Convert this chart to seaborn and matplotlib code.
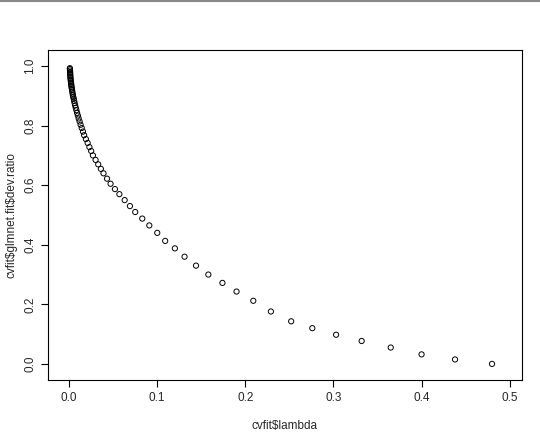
import matplotlib
matplotlib.use("Agg")
import matplotlib.pyplot as plt
import seaborn as sns
import pandas as pd

lam = [0.48, 0.438, 0.40, 0.365, 0.332, 0.303, 0.276, 0.252, 0.229, 0.209,
       0.190, 0.174, 0.158, 0.144, 0.131, 0.120, 0.109, 0.100, 0.091, 0.083,
       0.075, 0.069, 0.063, 0.057, 0.052, 0.047, 0.043, 0.039, 0.036, 0.033,
       0.030, 0.027, 0.025, 0.023, 0.021, 0.019, 0.017, 0.0157, 0.0143, 0.013,
       0.0119, 0.0108, 0.0099, 0.009, 0.0082, 0.0075, 0.0068, 0.0062, 0.0057, 0.0052,
       0.0047, 0.0043, 0.0039, 0.0036, 0.0033, 0.003, 0.0027, 0.0025, 0.0023, 0.0021,
       0.0019, 0.0017, 0.0015, 0.0014, 0.0013, 0.0012, 0.0011, 0.001, 0.0009, 0.0008]
dev_ratio = [0.0, 0.015, 0.032, 0.055, 0.077, 0.098, 0.12, 0.143, 0.176, 0.212,
             0.243, 0.272, 0.300, 0.330, 0.360, 0.388, 0.413, 0.440, 0.465, 0.488,
             0.510, 0.530, 0.550, 0.570, 0.587, 0.605, 0.622, 0.640, 0.655, 0.670,
             0.685, 0.700, 0.715, 0.728, 0.742, 0.755, 0.768, 0.780, 0.792, 0.803,
             0.814, 0.824, 0.834, 0.843, 0.852, 0.86, 0.868, 0.876, 0.883, 0.890,
             0.896, 0.902, 0.908, 0.914, 0.92, 0.925, 0.93, 0.935, 0.94, 0.945,
             0.95, 0.955, 0.96, 0.965, 0.97, 0.975, 0.98, 0.985, 0.99, 0.993]

df = pd.DataFrame({"lambda": lam, "dev": dev_ratio})

sns.set_style("ticks")
plt.rcParams['font.family'] = ['Liberation Sans', 'DejaVu Sans']
plt.rcParams['text.parse_math'] = False
fig = plt.figure(figsize=(5.4, 4.45), dpi=100)
ax = fig.add_axes([48 / 540, 65 / 445, 474 / 540, 330 / 445])
sns.scatterplot(data=df, x="lambda", y="dev", ax=ax, marker="o", s=14,
                facecolor="none", edgecolor="black", linewidth=0.7)
ax.set_xlim(-0.024, 0.514)
ax.set_ylim(-0.054, 1.054)
ax.set_xticks([0, 0.1, 0.2, 0.3, 0.4, 0.5])
ax.set_xticklabels(["0.0", "0.1", "0.2", "0.3", "0.4", "0.5"])
ax.set_yticks([0, 0.2, 0.4, 0.6, 0.8, 1.0])
ax.set_yticklabels(["0.0", "0.2", "0.4", "0.6", "0.8", "1.0"], rotation=90, va="center")
ax.tick_params(labelsize=8.5, length=5, color="black")
for s in ax.spines.values():
    s.set_color("black")
    s.set_linewidth(0.8)
ax.set_xlabel("cvfit$lambda", fontsize=8.5, labelpad=12)
ax.set_ylabel("cvfit$glmnet.fit$dev.ratio", fontsize=8.5, labelpad=5)
fig.add_artist(plt.Line2D([0, 1], [0.998, 0.998], color="#888888", linewidth=1.5))
fig.savefig("out.png", dpi=100)
